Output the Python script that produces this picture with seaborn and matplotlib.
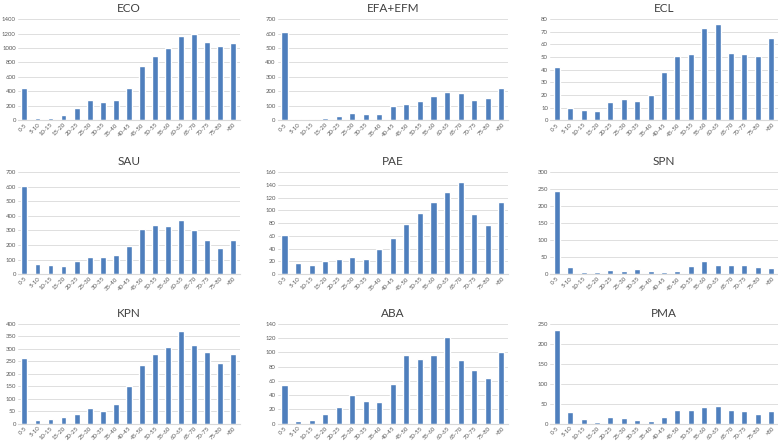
import matplotlib
matplotlib.use("Agg")
import matplotlib.pyplot as plt
import numpy as np
import seaborn as sns

age_groups = ["0-5", "5-10", "10-15", "15-20", "20-25", "25-30", "30-35", "35-40",
              "40-45", "45-50", "50-55", "55-60", "60-65", "65-70", "70-75", "75-80", ">80"]

eco = [450, 35, 25, 65, 165, 275, 250, 275, 440, 745, 895, 995, 1170, 1190, 1090, 1030, 1075]
efa_efm = [610, 10, 5, 15, 30, 50, 45, 45, 95, 110, 135, 170, 195, 190, 140, 155, 220]
ecl = [42, 10, 8, 7, 14, 17, 15, 20, 38, 51, 52, 73, 76, 53, 52, 51, 65]
sau = [605, 70, 60, 55, 90, 115, 120, 130, 195, 310, 335, 330, 375, 300, 235, 180, 235]
pae = [62, 17, 14, 21, 24, 27, 24, 40, 57, 79, 96, 113, 129, 144, 94, 77, 113]
spn = [245, 20, 5, 7, 12, 8, 14, 8, 7, 10, 23, 40, 27, 26, 27, 21, 17]
kpn = [262, 15, 20, 27, 38, 62, 52, 80, 153, 236, 278, 308, 373, 316, 287, 242, 278]
aba = [54, 4, 5, 13, 23, 40, 32, 31, 55, 96, 91, 96, 122, 89, 75, 64, 101]
pma = [235, 30, 12, 4, 16, 14, 10, 6, 17, 35, 33, 42, 43, 33, 31, 25, 32]

titles = ["ECO", "EFA+EFM", "ECL", "SAU", "PAE", "SPN", "KPN", "ABA", "PMA"]
series = [eco, efa_efm, ecl, sau, pae, spn, kpn, aba, pma]
y_max = [1400, 700, 80, 700, 160, 300, 400, 140, 250]
y_step = [200, 100, 10, 100, 20, 50, 50, 20, 50]

sns.set_style("white")
plt.rcParams["font.family"] = ["Lato", "DejaVu Sans"]

bar_color = "#4F7FBD"
grid_color = "#D9D9D9"
text_color = "#595959"

fig = plt.figure(figsize=(7.78, 4.45), dpi=100)

# axes rectangles [left, bottom, width, height] per column / row
col_rects = [(0.023, 0.285), (0.357, 0.296), (0.707, 0.293)]
row_rects = [(0.730, 0.227), (0.384, 0.229), (0.048, 0.224)]

for i, (name, vals) in enumerate(zip(titles, series)):
    r, c = divmod(i, 3)
    left, width = col_rects[c]
    bottom, height = row_rects[r]
    ax = fig.add_axes([left, bottom, width, height])
    sns.barplot(x=age_groups, y=vals, color=bar_color, width=0.45,
                saturation=1, ax=ax)
    ax.set_ylim(0, y_max[i])
    ax.set_yticks(np.arange(0, y_max[i] + 1, y_step[i]))
    ax.set_xlim(-0.5, len(age_groups) - 0.5)
    ax.grid(axis="y", color=grid_color, linewidth=0.6)
    ax.set_axisbelow(True)
    for side in ["top", "right", "left"]:
        ax.spines[side].set_visible(False)
    ax.spines["bottom"].set_color(grid_color)
    ax.spines["bottom"].set_linewidth(0.8)
    ax.tick_params(axis="both", length=0, labelsize=4.3, colors=text_color, pad=1.5)
    plt.setp(ax.get_xticklabels(), rotation=45, ha="right", rotation_mode="anchor")
    ax.set_title(name, fontsize=8.5, color="#404040", pad=5)
    ax.set_xlabel("")
    ax.set_ylabel("")

fig.savefig("out.png", dpi=100, facecolor="white")
